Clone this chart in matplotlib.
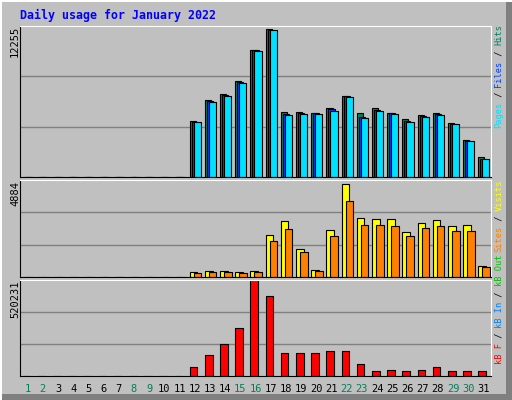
import numpy as np
import matplotlib.pyplot as plt
from matplotlib.patches import Rectangle

days = np.arange(1, 32)
weekend = [1, 2, 8, 9, 15, 16, 22, 23, 29, 30]

z11 = [0] * 11
hits = z11 + [4545, 6250, 6740, 7790, 10310, 12010, 5280, 5280, 5200, 5600,
              6580, 5200, 5600, 5200, 4710, 5030, 5200, 4385, 3000, 1620]
files = z11 + [4500, 6150, 6640, 7700, 10270, 11970, 5100, 5180, 5160, 5480,
               6540, 4900, 5450, 5160, 4550, 4950, 5100, 4340, 2960, 1500]
pages = z11 + [4470, 6090, 6580, 7630, 10230, 11930, 5030, 5120, 5120, 5360,
               6500, 4790, 5360, 5120, 4470, 4870, 5030, 4300, 2920, 1460]
visits = z11 + [250, 300, 300, 250, 300, 2110, 2820, 1410, 350, 2370,
                4690, 2970, 2920, 2920, 2270, 2720, 2870, 2570, 2620, 550]
sites = z11 + [200, 250, 250, 200, 250, 1810, 2420, 1260, 300, 2070,
               3830, 2620, 2620, 2570, 2070, 2470, 2570, 2320, 2320, 500]
kbytes = z11 + [48800, 113800, 173400, 260000, 520231, 433600, 124700, 124700,
                124700, 135500, 135500, 65000, 27100, 32500, 27100, 32500,
                48800, 27100, 27100, 27100]
ymax = [12255, 4884, 520231]

W, H = 512, 400
BG = '#C0C0C0'
fig = plt.figure(figsize=(W / 100, H / 100), dpi=100, facecolor=BG)
mono = 'DejaVu Sans Mono'

# 3D frame
fig.patches.append(Rectangle((506 / W, 0), 6 / W, 1, transform=fig.transFigure,
                             fc='#808080', ec='none'))
fig.patches.append(Rectangle((0, 0), 1, 6 / H, transform=fig.transFigure,
                             fc='#808080', ec='none'))
fig.patches.append(Rectangle((0, 0), 2 / W, 1, transform=fig.transFigure,
                             fc='white', ec='none'))
fig.patches.append(Rectangle((0, 1 - 2 / H), 1, 2 / H, transform=fig.transFigure,
                             fc='white', ec='none'))


def make_ax(top, bottom, vmax):
    ax = fig.add_axes([20 / W, 1 - bottom / H, 471 / W, (bottom - top) / H])
    ax.set_facecolor(BG)
    ax.set_xlim(0.5, 31.5)
    ax.set_ylim(0, vmax)
    for v in (vmax / 3, 2 * vmax / 3):
        ax.axhline(v, color='#808080', lw=1, zorder=0)
    ax.set_xticks([])
    ax.set_yticks([])
    for s in ax.spines.values():
        s.set_color('black')
    ax.spines['top'].set_color('white')
    ax.spines['right'].set_color('white')
    return ax


ax1 = make_ax(26, 177, ymax[0])
ax1.bar(days - 0.33, hits, 0.4, align='edge', color='#00805C', ec='black', lw=0.8)
ax1.bar(days - 0.2, files, 0.4, align='edge', color='#0040FF', ec='black', lw=0.8)
ax1.bar(days - 0.07, pages, 0.47, align='edge', color='#00E0FF', ec='black', lw=0.8)

ax2 = make_ax(180, 277, ymax[1])
ax2.bar(days - 0.33, visits, 0.5, align='edge', color='#FFFF00', ec='black', lw=0.8)
ax2.bar(days - 0.07, sites, 0.5, align='edge', color='#FF8000', ec='black', lw=0.8)

ax3 = make_ax(280, 376, ymax[2])
ax3.bar(days - 0.33, kbytes, 0.5, align='edge', color='#FF0000', ec='black', lw=0.8)

fig.text(20 / W, 1 - 15 / H, 'Daily usage for January 2022', color='#0000FF',
         family=mono, weight='bold', fontsize=8.4, va='center')

for lab, top in zip(ymax, (26, 181, 281)):
    fig.text(15 / W, 1 - top / H, str(lab), rotation=90, family=mono,
             fontsize=7.5, ha='center', va='top')

for d in days:
    x = 20 + (d - 0.5) / 31 * 471
    fig.text(x / W, 1 - 389 / H, str(d), family=mono, fontsize=7.5,
             ha='center', va='center',
             color='#00805C' if d in weekend else 'black')

# right side legends, reading bottom to top
FS = 6.2
CH = FS * 100 / 72 * 0.602


def side(parts, ybottom):
    y = ybottom
    for txt, col in parts:
        fig.text(499 / W, 1 - y / H, txt, rotation=90, family=mono,
                 fontsize=FS, color=col, ha='center', va='bottom')
        y -= CH * len(txt)


side([('Pages', '#00E0FF'), (' / ', 'black'), ('Files', '#0040FF'),
      (' / ', 'black'), ('Hits', '#00805C')], 128)
side([('Sites', '#FF8000'), (' / ', 'black'), ('Visits', '#FFFF00')], 252)
side([('kB F', '#FF0000'), (' / ', 'black'), ('kB In', '#0080FF'),
      (' / ', 'black'), ('kB Out', '#00C000')], 364)

fig.savefig('out.png', dpi=100, facecolor=BG)
